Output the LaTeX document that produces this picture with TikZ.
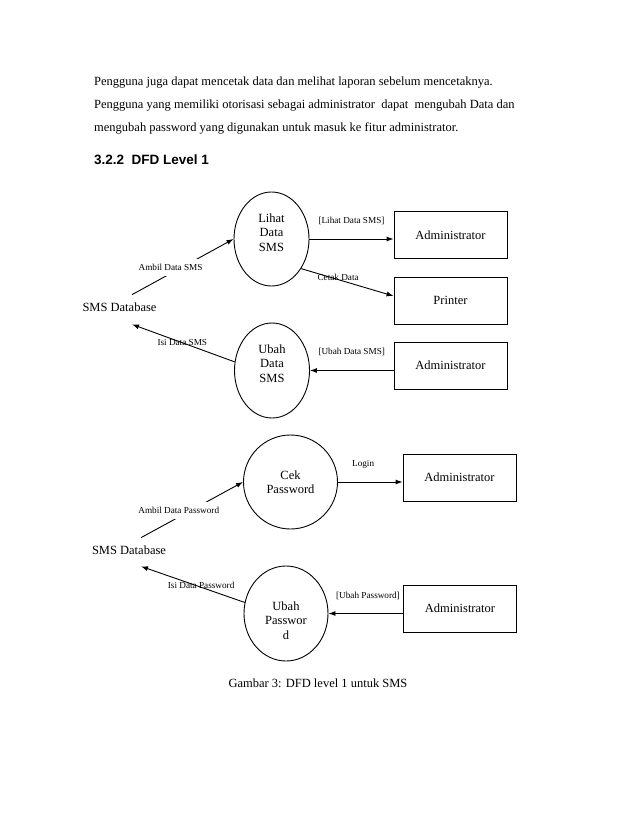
\documentclass[tikz,border=0pt]{standalone}
\usepackage{fontspec}
\setmainfont{Liberation Serif}
\newfontfamily\headfont{Liberation Sans}
\usetikzlibrary{arrows.meta, shapes.geometric, math}

\tikzset{
  proc/.style={draw, ellipse, line width=0.9pt, inner sep=0pt},
  ptext/.style={align=center, inner sep=0pt, font=\fontsize{12.5}{14.5}\selectfont},
  ext/.style={draw, rectangle, line width=0.9pt, font=\fontsize{12.5}{14.5}\selectfont},
  store/.style={inner xsep=2pt, inner ysep=7.75pt, font=\fontsize{12.5}{14.5}\selectfont},
  flow/.style={-{Latex[length=7pt,width=5pt]}, line width=0.9pt},
  lbl/.style={inner sep=1pt, font=\fontsize{9.2}{11}\selectfont},
  para/.style={anchor=base west, inner sep=0pt, font=\fontsize{12.5}{15}\selectfont},
}

\begin{document}
\begin{tikzpicture}[x=1pt, y=-1pt]
\tikzmath{
\bw=113;
\bh=47;
}
\fill[white] (0,0) rectangle (638,826);
\useasboundingbox (0,0) rectangle (638,826);

% text above the figure
\node[para] (par1) at (94,86) {Pengguna juga dapat mencetak data dan melihat laporan sebelum mencetaknya.};
\node[para] (par2) at (94,109) {Pengguna yang memiliki otorisasi sebagai administrator\ \ dapat\ \ mengubah Data dan};
\node[para] (par3) at (94,132) {mengubah password yang digunakan untuk masuk ke fitur administrator.};
\node[para, font=\headfont\bfseries\fontsize{13.5}{16}\selectfont] (sect) at (94,165) {3.2.2\ \ DFD Level 1};

% data SMS
\node[proc, minimum width=75pt, minimum height=94pt] (lihat) at (271.5,239) {};
\node[ptext] (lihattxt) at ([yshift=6.5pt]lihat.center) {Lihat\\Data\\SMS};
\node[ext, minimum width=\bw pt, minimum height=\bh pt] (admin1) at (450.5,235) {Administrator};
\node[ext, minimum width=\bw pt, minimum height=\bh pt] (printer) at (450.5,300.5) {Printer};
\node[proc, minimum width=75pt, minimum height=95pt] (ubahsms) at (272,370.5) {};
\node[ptext] (ubahsmstxt) at ([yshift=7pt]ubahsms.center) {Ubah\\Data\\SMS};
\node[ext, minimum width=\bw pt, minimum height=\bh pt] (admin2) at (450.5,365.5) {Administrator};
\node[store] (db1) at (119.5,307) {SMS Database};

\draw[flow] ([xshift=12.5pt]db1.north) -- (lihat.west)
  node[lbl, fill=white, inner ysep=5.5pt, pos=0.38, yshift=6pt] (ambilsms) {Ambil Data SMS};
\draw[flow] (lihat.east) -- (lihat.east -| admin1.west)
  node[lbl, midway, yshift=18pt] (lihatsms) {[Lihat Data SMS]};
\draw[flow] (lihat.-45) -- ([yshift=4.5pt]printer.west)
  node[lbl, pos=0.4, yshift=2pt] (cetak) {Cetak Data};
\draw[flow] (ubahsms.east -| admin2.west) -- (ubahsms.east)
  node[lbl, midway, yshift=19pt] (ubahsmslbl) {[Ubah Data SMS]};
\draw[flow] (ubahsms.167) -- ([xshift=12.5pt,yshift=-5pt]db1.south)
  node[lbl, pos=0.51] (isisms) {Isi Data SMS};

% password
\node[proc, align=center, minimum width=94pt, minimum height=94pt, font=\fontsize{12.5}{14}\selectfont] (cek) at (290.5,482) {Cek\\Password};
\node[ext, minimum width=\bw pt, minimum height=\bh pt] (admin3) at (459.5,477.5) {Administrator};
\node[store] (db2) at (129,550) {SMS Database};
\node[proc, minimum width=84pt, minimum height=95pt] (ubahpw) at (286,613.5) {};
\node[ptext] (ubahpwtxt) at ([yshift=-7pt]ubahpw.center) {Ubah\\Passwor\\d};
\node[ext, minimum width=\bw pt, minimum height=\bh pt] (admin4) at (460,608.5) {Administrator};

\draw[flow] ([xshift=12pt]db2.north) -- (cek.west)
  node[lbl, fill=white, inner ysep=5.5pt, pos=0.37, yshift=6.5pt] (ambilpw) {Ambil Data Password};
\draw[flow] (cek.east) -- (cek.east -| admin3.west)
  node[lbl, pos=0.39, yshift=18pt] (login) {Login};
\draw[flow] (ubahpw.east -| admin4.west) -- (ubahpw.east)
  node[lbl, pos=0.47, yshift=18pt] (ubahpwlbl) {[Ubah Password]};
\draw[flow] (ubahpw.165) -- ([xshift=12pt,yshift=-4pt]db2.south)
  node[lbl, pos=0.42, yshift=1.5pt] (isipw) {Isi Data Password};

\node[font=\fontsize{12.5}{14.5}\selectfont] (caption) at (318,683) {Gambar 3: DFD level 1 untuk SMS};
\end{tikzpicture}
\end{document}
